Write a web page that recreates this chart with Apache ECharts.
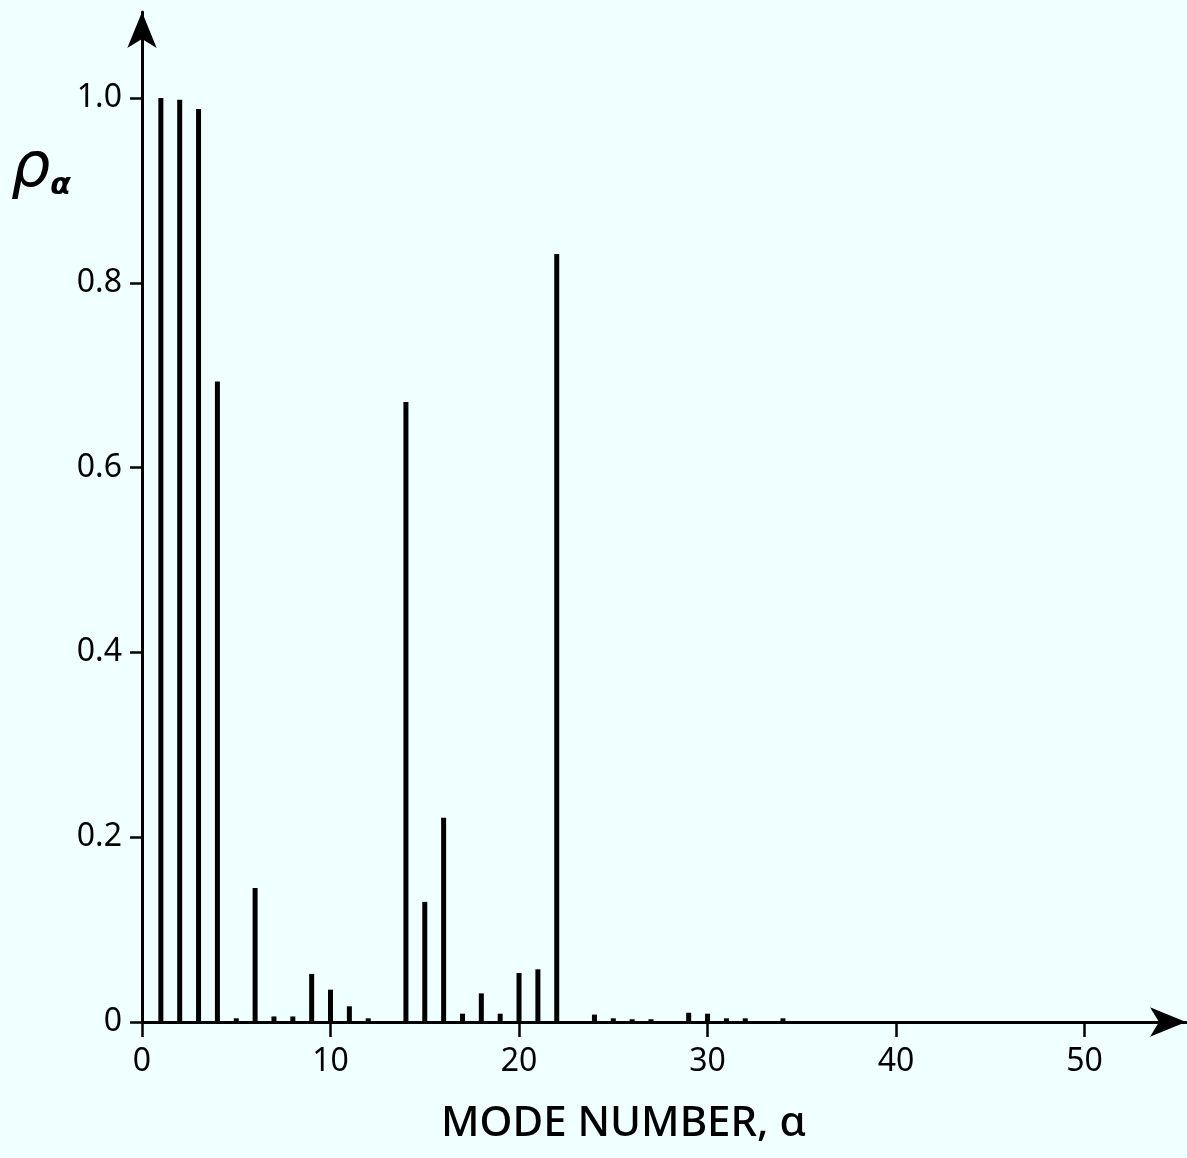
<!DOCTYPE html>
<html><head><meta charset="utf-8">
<script src="https://cdn.jsdelivr.net/npm/echarts@6/dist/echarts.min.js"></script>
<style>html,body{margin:0;padding:0;background:#F0FFFF;} #c{width:1187px;height:1158px;}</style>
</head><body><div id="c"></div>
<script>
const modes = [1,2,3,4,5,6,7,8,9,10,11,12,14,15,16,17,18,19,20,21,22,24,25,26,27,29,30,31,32,34];
const rho   = [1.0,0.998,0.988,0.693,0.004,0.145,0.006,0.006,0.052,0.035,0.017,0.004,0.671,0.130,0.221,0.009,0.031,0.009,0.053,0.057,0.831,0.008,0.004,0.003,0.003,0.010,0.009,0.004,0.004,0.004];
const xTicks = [0,10,20,30,40,50];
const yTicks = [0,0.2,0.4,0.6,0.8,1.0];
const xName = 'MODE NUMBER, α';
const yNameMain = 'ρ';
const yNameSub = 'α';

const FONT = 'Noto Sans';
const chart = echarts.init(document.getElementById('c'), null, {renderer:'canvas'});
chart.setOption({
  backgroundColor: '#F0FFFF',
  animation: false,
  title: [
    {text: xName, left: 436, top: 1098,
     textStyle: {fontFamily: FONT, fontSize: 42, fontWeight: 500, color: '#000'}},
    {text: '{r|' + yNameMain + '}{s|' + yNameSub + '}', left: 6, top: 134,
     textStyle: {fontWeight: 'normal', rich: {
       r: {fontFamily: 'DejaVu Sans', fontStyle: 'italic', fontWeight: 'normal', fontSize: 62, color: '#000'},
       s: {fontFamily: 'DejaVu Sans', fontStyle: 'italic', fontWeight: 'bold', fontSize: 30, color: '#000', verticalAlign: 'bottom', padding:[26,0,0,0]}
     }}}
  ],
  grid: {left: 142, right: 1, top: 12, bottom: 136, outerBoundsMode: 'none'},
  xAxis: {
    type: 'value', min: 0, max: 55.38,
    splitLine: {show: false},
    axisLine: {show: true, onZero: false, symbol: ['none','arrow'], symbolSize: [22, 36],
      lineStyle: {color: '#000', width: 3}},
    axisTick: {show: true, length: 15, customValues: xTicks, lineStyle: {color: '#000', width: 2.5}},
    axisLabel: {show: true, customValues: xTicks, margin: 24, color: '#000',
      fontFamily: FONT, fontSize: 32}
  },
  yAxis: {
    type: 'value', min: 0, max: 1.093,
    splitLine: {show: false},
    axisLine: {show: true, onZero: false, symbol: ['none','arrow'], symbolSize: [22, 36],
      lineStyle: {color: '#000', width: 3}},
    axisTick: {show: true, length: 12, customValues: yTicks, lineStyle: {color: '#000', width: 2.5}},
    axisLabel: {show: true, customValues: yTicks, margin: 20, color: '#000',
      fontFamily: FONT, fontSize: 32,
      formatter: v => v === 0 ? '0' : v.toFixed(1)}
  },
  series: [{
    type: 'bar',
    barWidth: 5,
    itemStyle: {color: '#000'},
    data: modes.map((m, i) => [m, rho[i]])
  }]
});
</script></body></html>
